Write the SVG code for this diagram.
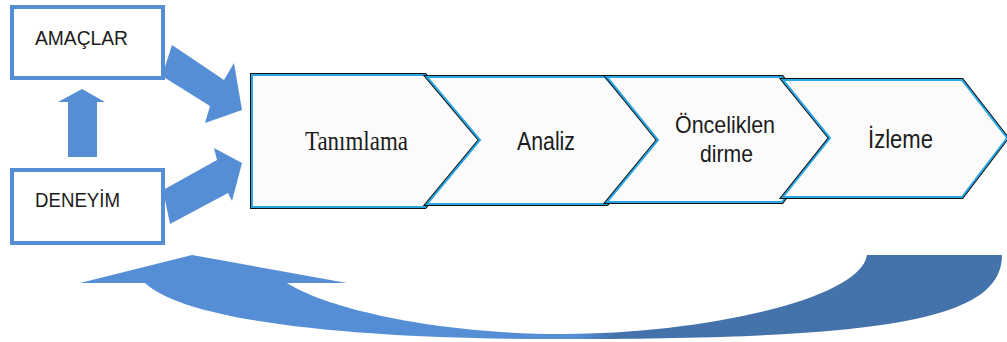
<svg xmlns="http://www.w3.org/2000/svg" width="1007" height="342" viewBox="0 0 1007 342">
  <style>
    .arrow { fill: #558ed5; }
    .box { fill: #ffffff; stroke: #558ed5; stroke-width: 4; }
    .lbl { font-family: "Liberation Sans", Arial, sans-serif; fill: #1c1c1c; }
    .serif { font-family: "Liberation Serif", "Times New Roman", serif; fill: #1c1c1c; }
    .step-edge { fill: none; stroke: #111111; stroke-width: 4; stroke-linejoin: miter; }
    .step { fill: #fbfbfb; stroke: #2aa7e2; stroke-width: 2; stroke-linejoin: miter; }
  </style>
  <defs>
    <linearGradient id="loopShade" gradientUnits="userSpaceOnUse" x1="80" y1="0" x2="1002" y2="0">
      <stop offset="0" stop-color="#558ed5"/>
      <stop offset="0.54" stop-color="#558ed5"/>
      <stop offset="0.58" stop-color="#4472aa"/>
      <stop offset="1" stop-color="#4472aa"/>
    </linearGradient>
    <polygon id="s1" points="252,75 425,75 480,140 425,207 252,207"/>
    <polygon id="s2" points="427,77 605,77 660,140 607,204 427,204 480,140"/>
    <polygon id="s3" points="607,77 782,77 830,138 782,202 607,202 658,140"/>
    <polygon id="s4" points="783,80 962,80 1007,138 962,197 783,197 830,138"/>
  </defs>

  <!-- connectors -->
  <g id="connectors">
    <!-- AMAÇLAR -> process -->
    <polygon class="arrow" points="172,45 224,80 234,63 242,110 205,123 210,106 162,76"/>
    <!-- DENEYİM -> process -->
    <polygon class="arrow" points="163,190 217,160 214,148 242,163 232,201 228,193 170,224"/>
    <!-- DENEYİM -> AMAÇLAR -->
    <polygon class="arrow" points="68,157 68,102 58,102 82,89 105,102 97,102 97,157"/>
    <!-- feedback loop -->
    <path fill="url(#loopShade)" d="M867,255 L1002,255 C1002,318 894,339 570,339 C380,340 190,325 145,283 L80,283 L192,255 L347,283 L287,283 C330,310 440,334 563,334 C700,334 860,300 867,255 Z"/>
  </g>

  <!-- input boxes -->
  <g id="amaclar">
    <rect class="box" x="12" y="7" width="151" height="71"/>
    <text class="lbl" x="35" y="45" font-size="21" textLength="93" lengthAdjust="spacingAndGlyphs">AMAÇLAR</text>
  </g>
  <g id="deneyim">
    <rect class="box" x="12" y="170" width="151" height="73"/>
    <text class="lbl" x="35" y="207" font-size="21" textLength="85" lengthAdjust="spacingAndGlyphs">DENEYİM</text>
  </g>

  <!-- process steps -->
  <g id="tanimlama">
    <use href="#s1" class="step-edge"/>
    <use href="#s1" class="step"/>
    <text class="serif" x="305" y="150" font-size="27" textLength="103" lengthAdjust="spacingAndGlyphs">Tanımlama</text>
  </g>
  <g id="analiz">
    <use href="#s2" class="step-edge"/>
    <use href="#s2" class="step"/>
    <text class="lbl" x="517" y="150" font-size="25" textLength="58" lengthAdjust="spacingAndGlyphs">Analiz</text>
  </g>
  <g id="onceliklendirme">
    <use href="#s3" class="step-edge"/>
    <use href="#s3" class="step"/>
    <text class="lbl" x="675" y="133" font-size="24" textLength="100" lengthAdjust="spacingAndGlyphs">Önceliklen</text>
    <text class="lbl" x="700" y="162" font-size="24" textLength="53" lengthAdjust="spacingAndGlyphs">dirme</text>
  </g>
  <g id="izleme">
    <use href="#s4" class="step-edge"/>
    <use href="#s4" class="step"/>
    <text class="lbl" x="868" y="148" font-size="25" textLength="65" lengthAdjust="spacingAndGlyphs">İzleme</text>
  </g>
</svg>
